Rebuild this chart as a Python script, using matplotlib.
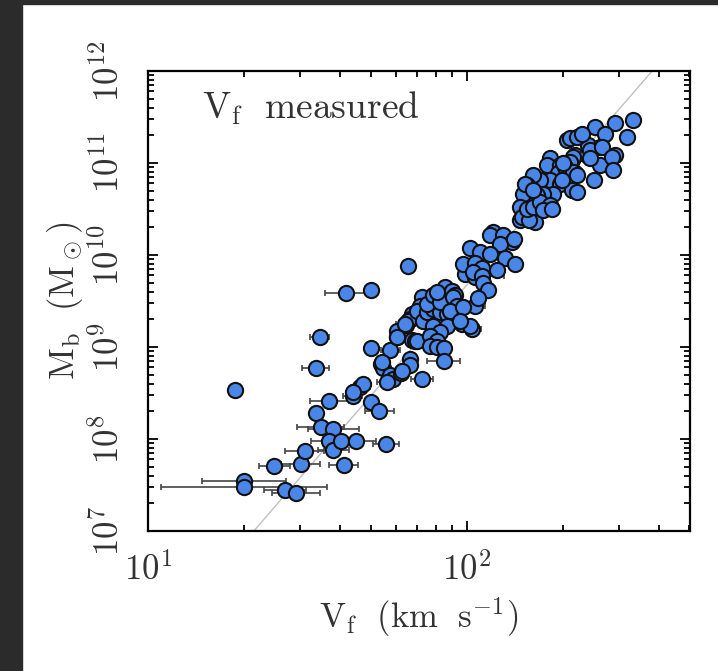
import numpy as np
import matplotlib
matplotlib.use('Agg')
import matplotlib.pyplot as plt
from matplotlib.patches import Rectangle
from matplotlib.ticker import LogLocator, FuncFormatter, NullFormatter

plt.rcParams['mathtext.fontset'] = 'cm'

# flat rotation velocity (km/s), log10 baryonic mass (Msun), velocity error (dex)
vf = [18.7, 20.0, 20.0, 24.9, 26.9, 29.1, 30.1, 31.0, 33.7, 34.8,
      37.1, 38.2, 37.1, 38.2, 40.3, 41.1, 45.1, 55.8, 33.6, 34.6,
      41.8, 50.2, 65.5, 43.9, 46.3, 47.4, 50.2, 53.2, 50.2, 53.7,
      54.7, 57.5, 57.5, 58.9, 56.1, 60.3, 60.3, 62.1, 64.5, 67.3,
      68.9, 66.4, 66.4, 72.3, 72.3, 67.3, 66.4, 71.4, 74.0, 44.0,
      54.1, 62.5, 65.6, 64.1, 60.6, 69.7, 69.7, 73.1, 75.0, 78.6,
      82.5, 86.6, 90.8, 94.2, 96.5, 103.7, 106.2, 78.6, 86.6, 82.5,
      76.7, 80.5, 76.7, 80.5, 84.6, 84.6, 75.0, 78.6, 82.5, 85.5,
      89.8, 91.9, 98.9, 106.2, 154.4, 163.9, 147.1, 121.3, 118.4, 130.3,
      138.5, 127.3, 102.5, 110.2, 118.4, 131.9, 141.9, 97.7, 106.2, 111.5,
      105.0, 111.5, 124.2, 112.8, 117.0, 108.9, 80.5, 90.8, 93.1, 88.7,
      97.7, 102.5, 95.3, 206.0, 241.0, 262.0, 219.0, 213.7, 238.0, 262.0,
      182.8, 178.4, 196.4, 194.0, 182.8, 170.0, 161.8, 154.4, 196.4, 219.0,
      250.0, 213.7, 221.6, 187.0, 174.0, 166.0, 158.0, 150.7, 147.1, 149.0,
      156.3, 154.4, 161.8, 170.0, 182.8, 174.0, 185.0, 140.3, 333.7, 292.4,
      253.0, 317.7, 271.6, 211.2, 221.6, 229.6, 243.7, 265.5, 292.4, 285.0,
      288.7, 243.7, 216.0, 211.2, 203.7, 216.0, 221.6, 198.8, 152.5, 161.8,
      201.0]

log_mb = [8.533, 7.545, 7.483, 7.708, 7.450, 7.418, 7.733, 7.871, 8.278, 8.133,
          8.416, 8.108, 7.973, 7.883, 7.980, 7.716, 7.973, 7.951, 8.772, 9.106,
          9.585, 9.622, 9.876, 8.471, 8.562, 8.599, 8.398, 8.300, 8.986, 8.816,
          8.772, 8.972, 8.699, 8.652, 8.616, 9.106, 9.179, 8.714, 9.244, 9.077,
          9.070, 8.870, 8.808, 8.652, 9.548, 9.359, 9.305, 9.449, 9.395, 8.506,
          8.832, 8.742, 9.286, 9.250, 9.106, 9.062, 9.395, 9.286, 9.377, 9.413,
          9.377, 9.359, 9.322, 9.286, 9.250, 9.195, 9.449, 9.232, 9.232, 9.160,
          9.120, 9.070, 9.014, 8.996, 8.985, 8.844, 9.470, 9.560, 9.487, 9.650,
          9.614, 9.560, 9.789, 9.760, 10.413, 10.358, 10.377, 10.250, 10.214, 10.214,
          10.140, 10.120, 10.080, 10.030, 10.010, 9.970, 9.900, 9.900, 9.918, 9.864,
          9.810, 9.770, 9.840, 9.697, 9.625, 9.534, 9.596, 9.540, 9.450, 9.395,
          9.430, 9.232, 9.286, 11.248, 11.194, 11.176, 11.085, 11.030, 11.085, 10.976,
          11.049, 10.976, 10.976, 10.886, 10.813, 10.813, 10.867, 10.758, 10.777, 10.886,
          10.813, 10.704, 10.685, 10.668, 10.668, 10.650, 10.650, 10.668, 10.522, 10.413,
          10.377, 10.504, 10.522, 10.577, 10.540, 10.486, 10.504, 10.175, 11.466, 11.430,
          11.394, 11.284, 11.320, 11.267, 11.284, 11.320, 11.140, 11.176, 11.085, 11.067,
          10.929, 11.050, 11.067, 11.012, 10.958, 10.904, 10.867, 10.813, 10.777, 10.704,
          10.995]

verr_dex = [0.016, 0.132, 0.261, 0.049, 0.067, 0.075, 0.060, 0.060, 0.0, 0.073,
            0.062, 0.080, 0.058, 0.050, 0.0, 0.045, 0.060, 0.040, 0.043, 0.030,
            0.066, 0.0, 0.0, 0.030, 0.030, 0.0, 0.0, 0.045, 0.0, 0.0,
            0.0, 0.030, 0.0, 0.030, 0.030, 0.0, 0.0, 0.0, 0.0, 0.0,
            0.0, 0.0, 0.0, 0.035, 0.0, 0.0, 0.0, 0.0, 0.0, 0.0,
            0.0, 0.0, 0.0, 0.030, 0.0, 0.0, 0.0, 0.0, 0.0, 0.0,
            0.0, 0.0, 0.0, 0.0, 0.0, 0.030, 0.030, 0.0, 0.0, 0.0,
            0.0, 0.0, 0.0, 0.0, 0.0, 0.053, 0.0, 0.0, 0.0, 0.0,
            0.0, 0.0, 0.0, 0.0, 0.0, 0.0, 0.0, 0.0, 0.0, 0.0,
            0.0, 0.0, 0.0, 0.0, 0.0, 0.0, 0.0, 0.0, 0.0, 0.0,
            0.0, 0.070, 0.0, 0.0, 0.0, 0.0, 0.0, 0.0, 0.0, 0.0,
            0.0, 0.0, 0.0, 0.0, 0.0, 0.0, 0.0, 0.0, 0.0, 0.0,
            0.0, 0.0, 0.0, 0.0, 0.0, 0.0, 0.0, 0.0, 0.0, 0.0,
            0.0, 0.0, 0.0, 0.0, 0.0, 0.0, 0.0, 0.0, 0.0, 0.0,
            0.0, 0.0, 0.0, 0.0, 0.0, 0.0, 0.0, 0.0, 0.0, 0.0,
            0.0, 0.0, 0.0, 0.0, 0.0, 0.0, 0.0, 0.0, 0.0, 0.0,
            0.0, 0.0, 0.0, 0.0, 0.0, 0.0, 0.0, 0.0, 0.0, 0.0,
            0.0]

# BTFR normalisation, Mb = A * Vf^4
btfr_a = 47.0

v = np.array(vf)
mb = 10 ** np.array(log_mb)
e = np.array(verr_dex)

text_col = '#333333'

fig = plt.figure(figsize=(7.18, 6.71), dpi=100)
# dark border of the screenshot
fig.patches.append(Rectangle((0, 0), 22 / 718, 1, transform=fig.transFigure,
                             color='#2b2b2b', zorder=0))
fig.patches.append(Rectangle((0, 1 - 4 / 671), 1, 4 / 671, transform=fig.transFigure,
                             color='#2b2b2b', zorder=0))

ax = fig.add_axes([148 / 718, 140 / 671, 542 / 718, 460 / 671])
ax.set_xscale('log')
ax.set_yscale('log')
ax.set_xlim(10, 502)
ax.set_ylim(1e7, 1e12)

# BTFR line
vline = np.logspace(1, 2.8, 50)
ax.plot(vline, btfr_a * vline ** 4, color='#c0c0c0', lw=1.0, zorder=1)

# error bars for points where they show
has = e > 0
lo = v[has] - v[has] * 10 ** (-e[has])
hi = v[has] * 10 ** e[has] - v[has]
ax.errorbar(v[has], mb[has], xerr=[lo, hi], fmt='none', ecolor='#444444',
            elinewidth=1.2, capsize=2.5, capthick=1.2, zorder=2)

ax.scatter(v, mb, s=120, c='#4a86e8', edgecolors='#111111', linewidths=1.5, zorder=3)

for s in ax.spines.values():
    s.set_linewidth(1.6)

ax.xaxis.set_major_locator(LogLocator(base=10, numticks=10))
ax.yaxis.set_major_locator(LogLocator(base=10, numticks=10))
ax.xaxis.set_minor_locator(LogLocator(base=10, subs=np.arange(2, 10), numticks=20))
ax.yaxis.set_minor_locator(LogLocator(base=10, subs=np.arange(2, 10), numticks=20))
fmt = FuncFormatter(lambda val, pos: r'$\mathrm{10^{%d}}$' % round(np.log10(val)))
ax.xaxis.set_major_formatter(fmt)
ax.yaxis.set_major_formatter(fmt)
ax.xaxis.set_minor_formatter(NullFormatter())
ax.yaxis.set_minor_formatter(NullFormatter())

ax.tick_params(which='both', direction='in', top=True, right=True, width=1.3,
               colors='black', labelcolor=text_col, labelsize=25)
ax.tick_params(which='major', length=7)
ax.tick_params(which='minor', length=4)
ax.tick_params(axis='x', pad=15)
ax.tick_params(axis='y', pad=16, labelrotation=90)
for lab in ax.get_yticklabels():
    lab.set_va('center')

ax.set_xlabel(r'$\mathrm{V_f\ \ (km\ \ s^{-1})}$', fontsize=25, color=text_col, labelpad=6)
ax.set_ylabel(r'$\mathrm{M_b\ \ (M_\odot)}$', fontsize=25, color=text_col, labelpad=4)

ax.text(0.10, 0.96, r'$\mathrm{V_f\ \ measured}$', transform=ax.transAxes,
        fontsize=27, color=text_col, ha='left', va='top')

fig.savefig('out.png', dpi=100, facecolor='white')
